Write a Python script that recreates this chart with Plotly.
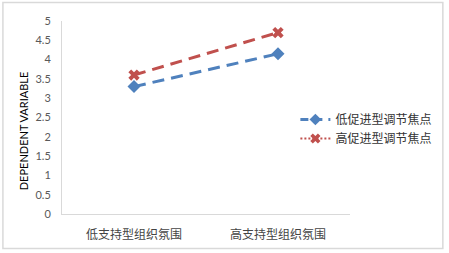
import plotly.graph_objects as go

categories = ["低支持型组织氛围", "高支持型组织氛围"]
low_promo = [3.3, 4.15]
high_promo = [3.6, 4.7]
series_names = ["低促进型调节焦点", "高促进型调节焦点"]
y_ticks = [0, 0.5, 1, 1.5, 2, 2.5, 3, 3.5, 4, 4.5, 5]

BLUE = "#4F81BD"
RED = "#C0504D"

W, H = 449, 253
L, R, T, B = 62, 97, 21, 39
PW, PH = W - L - R, H - T - B

fig = go.Figure()
fig.add_trace(go.Scatter(x=categories, y=low_promo, mode="lines+markers", showlegend=False,
                         line=dict(color=BLUE, width=3, dash="12px,7px"),
                         marker=dict(symbol="diamond", size=10, color=BLUE)))
fig.add_trace(go.Scatter(x=categories, y=high_promo, mode="lines+markers", showlegend=False,
                         line=dict(color=RED, width=3, dash="12px,7px"),
                         marker=dict(symbol="x", size=10, color=RED)))
# legend-only entries
fig.add_trace(go.Scatter(x=[None], y=[None], mode="lines+markers", name=series_names[0],
                         line=dict(color=BLUE, width=3, dash="8px,6px"),
                         marker=dict(symbol="diamond", size=9, color=BLUE)))
fig.add_trace(go.Scatter(x=[None], y=[None], mode="lines+markers", name=series_names[1],
                         line=dict(color=RED, width=2, dash="2px,2px"),
                         marker=dict(symbol="x", size=9, color=RED)))

def px_x(p):
    return (p - L) / PW

def px_y(p):
    return (T + PH - p) / PH

fig.update_layout(
    width=W, height=H,
    margin=dict(l=L, r=R, t=T, b=B),
    paper_bgcolor="white", plot_bgcolor="white",
    showlegend=True,
    legend=dict(x=px_x(297), y=px_y(105), xanchor="left", yanchor="top",
                bgcolor="rgba(0,0,0,0)", tracegroupgap=0, itemwidth=30,
                font=dict(family="Noto Sans CJK SC", size=12, color="#333333")),
    xaxis=dict(type="category", range=[-0.5, 1.5], showgrid=False, zeroline=False,
               showline=True, linecolor="#D9D9D9", linewidth=1, ticks="",
               ticklabelstandoff=10,
               tickfont=dict(family="Noto Sans CJK SC", size=12, color="#444444")),
    yaxis=dict(range=[0, 5], tickvals=y_ticks, ticktext=[f"{v:g}" for v in y_ticks],
               showgrid=False, zeroline=False, showline=True, linecolor="#D9D9D9",
               linewidth=1, ticks="", ticklabelstandoff=8,
               tickfont=dict(family="Lato", size=11, color="#595959")),
    annotations=[dict(text="DEPENDENT VARIABLE", textangle=-90, xref="paper", yref="paper",
                      x=px_x(23), y=px_y(131), xanchor="center", yanchor="middle",
                      showarrow=False, font=dict(family="Lato", size=11, color="#000000"))],
    shapes=[dict(type="rect", xref="paper", yref="paper",
                 x0=px_x(2.5), x1=px_x(445.5), y0=px_y(248.5), y1=px_y(2.5),
                 line=dict(color="#D9D9D9", width=1.5), layer="below")],
)

fig.write_html("out.html", config={"displayModeBar": False},
               post_script="document.body.style.margin='0';document.body.style.overflow='hidden';")
